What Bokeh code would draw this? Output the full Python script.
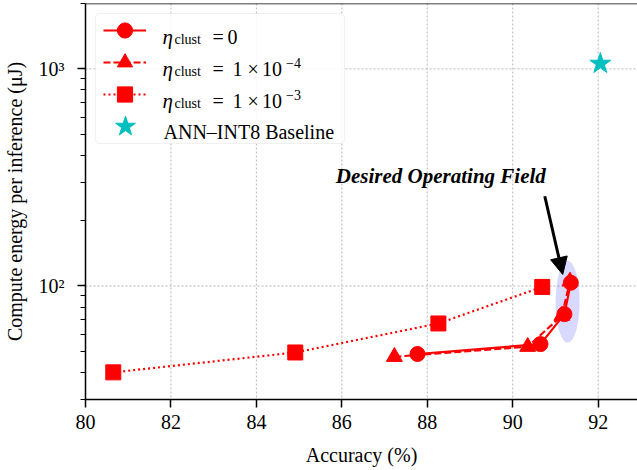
from bokeh.plotting import figure
from bokeh.models import (Range1d, FixedTicker, Legend, LegendItem, BoxAnnotation,
                          Label, Arrow, NormalHead, Span)
from bokeh.embed import file_html
from bokeh.resources import INLINE

# ---------------- data ----------------
acc_eta0 = [87.77, 90.65, 91.21, 91.36]
energy_eta0 = [48.6, 54.0, 74.2, 103.5]

acc_eta1e4 = [87.23, 90.35, 91.15, 91.34]
energy_eta1e4 = [47.2, 52.5, 73.0, 105.0]

acc_eta1e3 = [80.65, 84.91, 88.26, 90.69]
energy_eta1e3 = [40.0, 49.4, 67.2, 99.0]

acc_baseline = [92.05]
energy_baseline = [1057.0]

x_ticks = [80, 82, 84, 86, 88, 90, 92]
y_ticks = [100, 1000]
y_tick_labels = {100: "10²", 1000: "10³"}
y_minor_ticks = [30, 40, 50, 60, 70, 80, 90, 200, 300, 400, 500, 600, 700, 800, 900, 2000]

# highlighted region / annotation (data coords)
field_x, field_y = 91.285, 84.5
arrow_from = (90.75, 259.0)
arrow_to = (91.17, 113.0)
note_xy = (85.86, 320.0)

FONT = "Liberation Serif"
RED = "#ff0000"
CYAN = "#00bfbf"
GRID = "#b8b8b8"

FL, FB = 84, 399  # frame left / bottom in canvas pixels

p = figure(width=637, height=470, x_range=Range1d(80, 92.92), y_range=Range1d(30, 2000),
           y_axis_type="log", output_backend="svg", toolbar_location=None,
           min_border_left=FL, min_border_right=0, min_border_top=3, min_border_bottom=470 - FB)
p.outline_line_color = None
p.background_fill_color = "white"
p.border_fill_color = "white"
p.xgrid.visible = False
p.ygrid.visible = False

# axes
for ax in (p.xaxis[0], p.yaxis[0]):
    ax.axis_line_width = 1.5
    ax.axis_line_color = "black"
    ax.major_tick_line_width = 1.5
    ax.major_tick_line_color = "black"
    ax.major_tick_in = 0
    ax.major_tick_out = 8
    ax.minor_tick_in = 0
    ax.minor_tick_out = 5
    ax.minor_tick_line_width = 1.2
    ax.minor_tick_line_color = "black"
    ax.major_label_text_font = FONT
    ax.major_label_text_font_size = "20px"
    ax.major_label_text_color = "black"
    ax.axis_label_text_font = FONT
    ax.axis_label_text_font_size = "20px"
    ax.axis_label_text_font_style = "normal"
    ax.axis_label_text_color = "black"

p.xaxis.ticker = FixedTicker(ticks=x_ticks, minor_ticks=[])
p.yaxis.ticker = FixedTicker(ticks=y_ticks, minor_ticks=y_minor_ticks)
p.yaxis.major_label_overrides = y_tick_labels
p.xaxis.major_label_standoff = 7
p.yaxis.major_label_standoff = 13
p.xaxis.axis_label_standoff = 12
p.yaxis.axis_label_standoff = 10
p.xaxis.axis_label = "Accuracy (%)"
p.yaxis.axis_label = "Compute energy per inference (μJ)"

# dotted grid at the major ticks only
for v in x_ticks:
    p.add_layout(Span(location=v, dimension="height", line_color=GRID, line_width=1,
                      line_dash="2 2", level="underlay"))
for v in y_ticks:
    p.add_layout(Span(location=v, dimension="width", line_color=GRID, line_width=1,
                      line_dash="2 2", level="underlay"))

# top spine
p.add_layout(Span(location=2000, dimension="width", line_color="black", line_width=1.5))

# highlighted region
p.ellipse(x=[field_x], y=[field_y], width=24, height=82, width_units="screen",
          height_units="screen", fill_color="blue", fill_alpha=0.15, line_color=None)

# series
l0 = p.line(acc_eta0, energy_eta0, line_color=RED, line_width=2.2)
s0 = p.scatter(acc_eta0, energy_eta0, marker="circle", size=15, fill_color=RED, line_color=RED)
l1 = p.line(acc_eta1e4, energy_eta1e4, line_color=RED, line_width=2.2, line_dash="7 3")
s1 = p.scatter(acc_eta1e4, energy_eta1e4, marker="triangle", size=16, fill_color=RED, line_color=RED)
l2 = p.line(acc_eta1e3, energy_eta1e3, line_color=RED, line_width=2.2, line_dash="2 3")
s2 = p.scatter(acc_eta1e3, energy_eta1e3, marker="square", size=15, fill_color=RED, line_color=RED)
s3 = p.scatter(acc_baseline, energy_baseline, marker="star", size=22, fill_color=CYAN, line_color=CYAN)

# arrow + note
p.add_layout(Arrow(end=NormalHead(size=17, fill_color="black", line_color="black"),
                   x_start=arrow_from[0], y_start=arrow_from[1],
                   x_end=arrow_to[0], y_end=arrow_to[1],
                   line_width=3, line_color="black"))
p.add_layout(Label(x=note_xy[0], y=note_xy[1], text="Desired Operating Field",
                   text_font=FONT, text_font_style="bold italic", text_font_size="21px",
                   text_align="left", text_baseline="alphabetic", text_color="black"))

# legend frame
p.add_layout(BoxAnnotation(left=94 - FL, right=343 - FL, top=FB - 13, bottom=FB - 143,
                           left_units="screen", right_units="screen",
                           top_units="screen", bottom_units="screen",
                           fill_color="white", fill_alpha=0.85,
                           line_color="#cccccc", line_width=1.2, border_radius=4))

# legend glyph samples: one single-row legend per entry
entries = [([l0, s0], 30.0, 43, 38),
           ([l1, s1], 62.0, 43, 38),
           ([l2, s2], 94.0, 43, 38),
           ([s3], 125.5, 52, 52)]
for i, (rends, cy, gw, gh) in enumerate(entries):
    lg = Legend(items=[LegendItem(label=" " * (i + 1), renderers=rends)],
                location=(123.5 - gw / 2 - FL, FB - (cy + gh / 2)), padding=0, margin=0,
                border_line_alpha=0, background_fill_alpha=0,
                glyph_width=gw, glyph_height=gh, label_height=10,
                label_standoff=0, label_width=2, label_text_font_size="8px")
    p.add_layout(lg)


def legend_text(px, py, txt, size=20, style="normal"):
    p.add_layout(Label(x=px - FL, y=FB - py, x_units="screen", y_units="screen", text=txt,
                       text_font=FONT, text_font_size=f"{size}px", text_font_style=style,
                       text_align="left", text_baseline="alphabetic", text_color="black"))


rows = [36.7, 68.3, 100.0]
exps = [None, "−4", "−3"]
for base, ex in zip(rows, exps):
    legend_text(161, base, "η", 21, "italic")
    legend_text(173, base + 2.7, "clust", 14)
    legend_text(211, base, "=")
    if ex is None:
        legend_text(226, base, "0")
    else:
        legend_text(231, base, "1")
        legend_text(246, base, "×")
        legend_text(260.5, base, "10")
        legend_text(284.5, base - 5.6, ex, 14)
legend_text(162, 131.5, "ANN–INT8 Baseline")

open("out.html", "w").write(file_html(p, INLINE))
